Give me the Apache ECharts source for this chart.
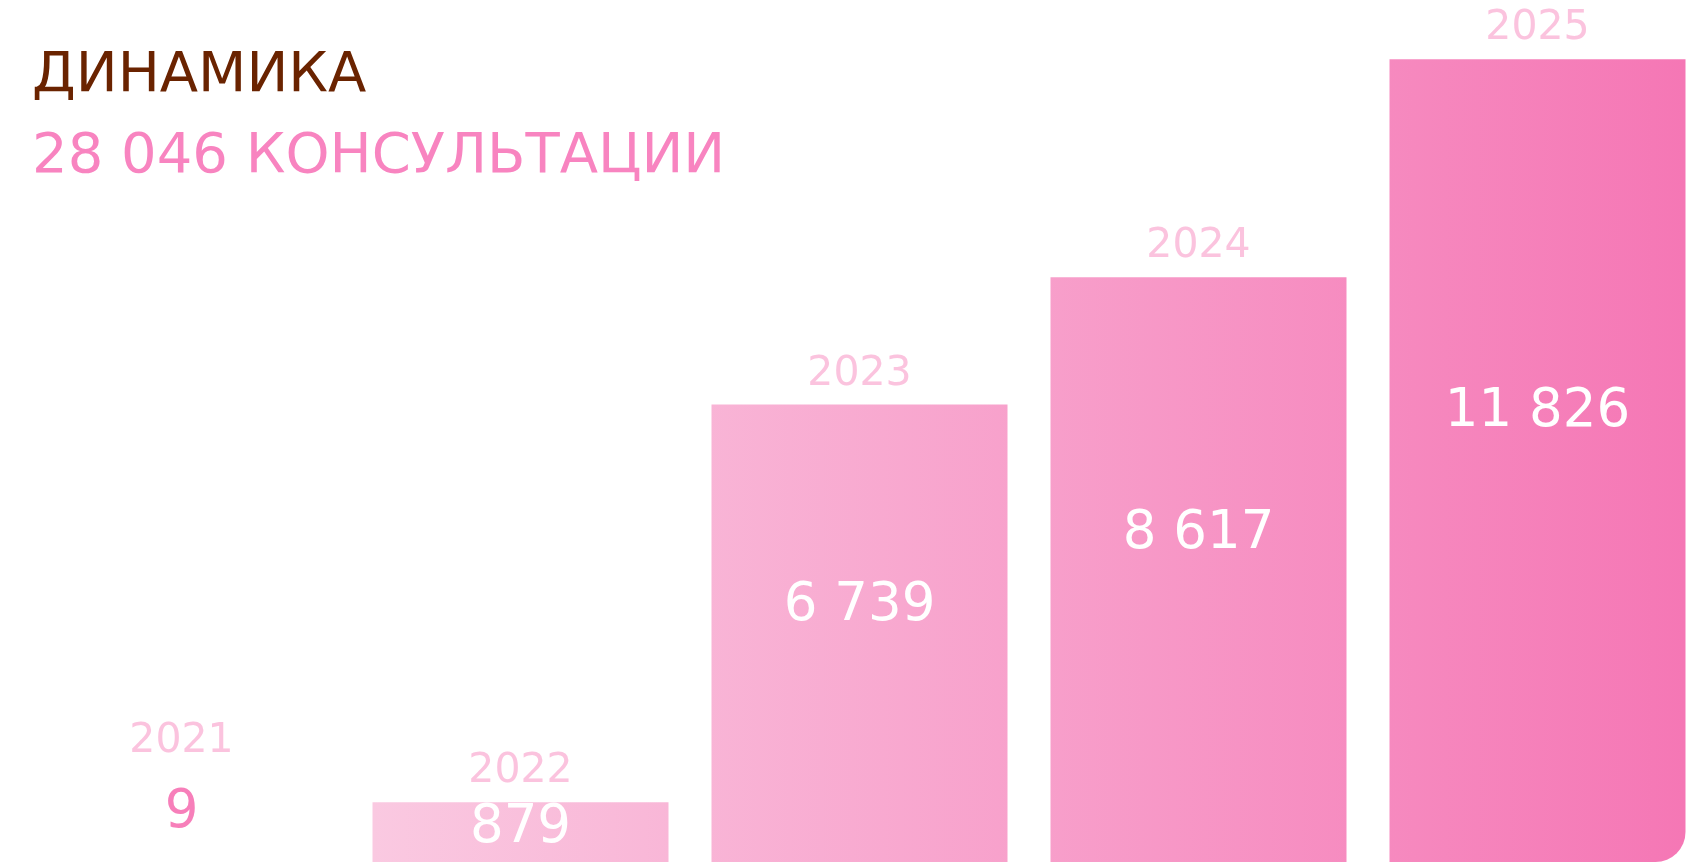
<!DOCTYPE html>
<html>
<head>
<meta charset="utf-8">
<script src="https://cdn.jsdelivr.net/npm/echarts@6/dist/echarts.min.js"></script>
<style>
    html, body { margin: 0; padding: 0; background: #fff; }
    #Chart { width: 1694px; height: 862px; }
</style>
</head>
<body>
<div id="Chart"></div>
<script>
// данные
var years = ['2021', '2022', '2023', '2024', '2025'];
var consultations = [9, 879, 6739, 8617, 11826];
var titleText = 'ДИНАМИКА';
var totalText = '28 046 КОНСУЛЬТАЦИИ';

var fontName = '"DejaVu Sans", sans-serif';
var pinkLight = '#fbc3de';
var pink = '#f77fba';

function fmt(v) {
    return String(v).replace(/\B(?=(\d{3})+(?!\d))/g, ' ');
}

var myChart = echarts.init(document.getElementById('Chart'), null, { renderer: 'canvas' });

// общий градиент по всем столбцам
var barGradient = new echarts.graphic.LinearGradient(373, 0, 1685, 0, [{
    offset: 0, color: '#fac9e1'
}, {
    offset: 1, color: '#f577b5'
}], true);

var valueData = consultations.map(function (v, i) {
    var item = { value: v };
    if (i === 0) {
        // почти нулевой столбик - подпись сверху розовым
        item.itemStyle = { color: 'rgba(255,255,255,0)' };
        item.label = {
            position: 'top',
            distance: 22,
            color: pink,
            align: 'center',
            verticalAlign: 'bottom'
        };
    }
    if (i === consultations.length - 1) {
        item.itemStyle = { borderRadius: [0, 0, 30, 0] };
    }
    return item;
});

var yearData = consultations.map(function (v, i) {
    var item = { value: v };
    if (i === 0) {
        item.label = { distance: 100 };
    }
    return item;
});

var option = {
    animation: false,
    backgroundColor: '#ffffff',
    title: [{
        text: titleText,
        left: 27,
        top: 43,
        textStyle: { fontFamily: fontName, fontSize: 56, fontWeight: 'normal', color: '#6a2300' }
    }, {
        text: totalText,
        left: 27,
        top: 124,
        textStyle: { fontFamily: fontName, fontSize: 56, fontWeight: 'normal', color: '#f884c0' }
    }],
    grid: {
        left: 12,
        right: -13,
        top: 0,
        bottom: 0,
        outerBoundsMode: 'none',
        containLabel: false
    },
    xAxis: {
        type: 'category',
        data: years,
        show: false
    },
    yAxis: {
        type: 'value',
        min: 0,
        max: 12700,
        show: false,
        splitLine: { show: false }
    },
    series: [
        {
            name: 'консультации',
            type: 'bar',
            barWidth: 296,
            data: valueData,
            itemStyle: { color: barGradient },
            label: {
                show: true,
                position: ['50%', '44%'],
                align: 'center',
                verticalAlign: 'middle',
                fontFamily: fontName,
                fontSize: 53,
                color: '#ffffff',
                formatter: function (p) { return fmt(p.value); }
            },
            z: 2
        },
        {
            name: 'годы',
            type: 'bar',
            barWidth: 296,
            barGap: '-100%',
            silent: true,
            data: yearData,
            itemStyle: { color: 'rgba(0,0,0,0)' },
            label: {
                show: true,
                position: 'top',
                distance: 10,
                fontFamily: fontName,
                fontSize: 41,
                color: pinkLight,
                formatter: function (p) { return p.name; }
            },
            z: 3
        }
    ]
};
myChart.setOption(option);
window.addEventListener('resize', function () {
    myChart.resize();
});
</script>
</body>
</html>
